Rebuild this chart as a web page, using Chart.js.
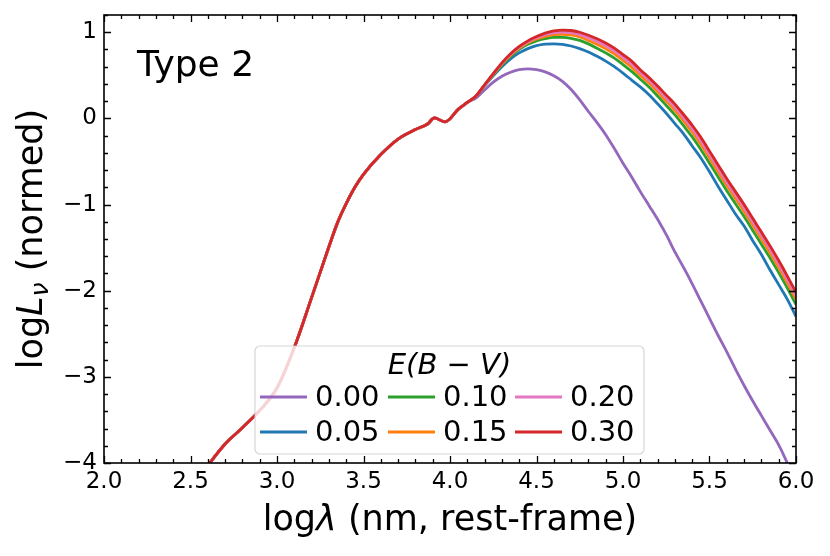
<!DOCTYPE html>
<html>
<head>
<meta charset="utf-8">
<script src="https://cdn.jsdelivr.net/npm/chart.js@4.4.1/dist/chart.umd.min.js"></script>
<style>
  html, body { margin: 0; padding: 0; background: #fff; }
  #sed { display: block; }
</style>
</head>
<body>
<canvas id="sed" width="830" height="556"></canvas>
<script>
// log wavelength grid where every E(B-V) curve coincides
const logLamShared = [2.5, 2.6, 2.7, 2.8, 2.9, 3.0, 3.1, 3.2, 3.3, 3.35, 3.4, 3.45, 3.5, 3.6, 3.7, 3.8, 3.87, 3.91, 3.97, 4.05, 4.1];
const logLnuShared = [-4.3, -4.03, -3.78, -3.59, -3.39, -3.13, -2.66, -2.08, -1.49, -1.21, -0.99, -0.80, -0.65, -0.42, -0.24, -0.13, -0.065, 0.005, -0.04, 0.11, 0.185];

// grid where the curves split apart
const logLamSplit = [4.15, 4.2, 4.25, 4.3, 4.35, 4.4, 4.45, 4.5, 4.55, 4.6, 4.65, 4.7, 4.75, 4.8, 4.85, 4.9, 4.95,
  5.0, 5.05, 5.1, 5.15, 5.2, 5.25, 5.3, 5.35, 5.4, 5.45, 5.5, 5.55, 5.6, 5.65, 5.7, 5.75, 5.8, 5.85, 5.9, 5.95, 6.0];

const ebvLabels = ['0.00', '0.05', '0.10', '0.15', '0.20', '0.30'];

const lnu000 = [0.235, 0.33, 0.42, 0.49, 0.535, 0.565, 0.575, 0.565, 0.54, 0.495, 0.43, 0.335, 0.215, 0.08, -0.05, -0.19, -0.35,
  -0.52, -0.68, -0.85, -1.01, -1.17, -1.35, -1.55, -1.73, -1.92, -2.12, -2.32, -2.52, -2.71, -2.91, -3.10, -3.28, -3.45, -3.62, -3.79, -4.0, -4.2];
const lnu005 = [0.257, 0.38, 0.495, 0.60, 0.69, 0.76, 0.81, 0.845, 0.862, 0.866, 0.86, 0.84, 0.81, 0.77, 0.72, 0.665, 0.60,
  0.525, 0.445, 0.365, 0.275, 0.17, 0.06, -0.06, -0.18, -0.32, -0.46, -0.62, -0.79, -0.95, -1.11, -1.25, -1.42, -1.58, -1.76, -1.93, -2.10, -2.30];
const lnu010 = [0.258, 0.385, 0.505, 0.62, 0.72, 0.80, 0.86, 0.90, 0.925, 0.94, 0.94, 0.93, 0.905, 0.865, 0.815, 0.76, 0.70,
  0.625, 0.545, 0.455, 0.365, 0.26, 0.15, 0.04, -0.085, -0.215, -0.36, -0.52, -0.68, -0.84, -0.99, -1.14, -1.30, -1.46, -1.62, -1.79, -1.97, -2.16];
const lnu015 = [0.259, 0.387, 0.511, 0.63, 0.733, 0.815, 0.877, 0.921, 0.95, 0.972, 0.976, 0.968, 0.945, 0.905, 0.86, 0.808, 0.748,
  0.673, 0.595, 0.50, 0.41, 0.308, 0.20, 0.093, -0.03, -0.158, -0.30, -0.46, -0.62, -0.78, -0.93, -1.08, -1.24, -1.40, -1.56, -1.73, -1.91, -2.10];
const lnu020 = [0.26, 0.389, 0.516, 0.638, 0.742, 0.825, 0.889, 0.936, 0.973, 0.994, 1.001, 0.995, 0.973, 0.936, 0.893, 0.843, 0.783,
  0.708, 0.631, 0.534, 0.444, 0.343, 0.236, 0.13, 0.009, -0.118, -0.259, -0.42, -0.58, -0.74, -0.89, -1.04, -1.20, -1.36, -1.52, -1.69, -1.87, -2.06];
const lnu030 = [0.26, 0.39, 0.52, 0.645, 0.75, 0.835, 0.90, 0.95, 0.99, 1.015, 1.025, 1.02, 1.0, 0.965, 0.925, 0.875, 0.815,
  0.74, 0.665, 0.565, 0.475, 0.375, 0.27, 0.165, 0.045, -0.08, -0.22, -0.38, -0.54, -0.70, -0.85, -1.0, -1.16, -1.32, -1.48, -1.65, -1.83, -2.02];

const xTicks = [2.0, 2.5, 3.0, 3.5, 4.0, 4.5, 5.0, 5.5, 6.0];
const yTicks = [-4, -3, -2, -1, 0, 1];

const series = [lnu000, lnu005, lnu010, lnu015, lnu020, lnu030];
const colors = ['#9467bd', '#1f77b4', '#2ca02c', '#ff7f0e', '#e377c2', '#d62728'];

const FONT = '"DejaVu Sans", "Liberation Sans", sans-serif';

function toPoints(vals) {
  const pts = logLamShared.map((x, i) => ({ x: x, y: logLnuShared[i] }));
  return pts.concat(logLamSplit.map((x, i) => ({ x: x, y: vals[i] })));
}

const datasets = series.map((vals, i) => ({
  label: ebvLabels[i],
  data: toPoints(vals),
  borderColor: colors[i],
  backgroundColor: colors[i],
  borderWidth: 2.8,
  pointRadius: 0,
  cubicInterpolationMode: 'monotone',
  order: series.length - i
}));

// spines plus inward ticks on all four sides
const framePlugin = {
  id: 'frame',
  afterDatasetsDraw(chart) {
    const { ctx, chartArea: a, scales: { x, y } } = chart;
    ctx.save();
    ctx.strokeStyle = '#000';
    ctx.lineWidth = 1.3;
    ctx.beginPath();
    for (let v = 2.0; v <= 6.0001; v += 0.1) {
      const px = Math.round(x.getPixelForValue(v)) + 0.5;
      const major = Math.abs(v * 2 - Math.round(v * 2)) < 1e-6;
      const len = major ? 7 : 4;
      ctx.moveTo(px, a.bottom); ctx.lineTo(px, a.bottom - len);
      ctx.moveTo(px, a.top); ctx.lineTo(px, a.top + len);
    }
    for (let v = -4; v <= 1.2001; v += 0.2) {
      const py = Math.round(y.getPixelForValue(v)) + 0.5;
      const major = Math.abs(v - Math.round(v)) < 1e-6;
      const len = major ? 7 : 4;
      ctx.moveTo(a.left, py); ctx.lineTo(a.left + len, py);
      ctx.moveTo(a.right, py); ctx.lineTo(a.right - len, py);
    }
    ctx.stroke();
    ctx.lineWidth = 1.6;
    ctx.strokeRect(a.left, a.top, a.right - a.left, a.bottom - a.top);
    ctx.restore();
  }
};

function drawRuns(ctx, runs, cx, baseline) {
  let total = 0;
  runs.forEach(r => { ctx.font = r.font; r.w = ctx.measureText(r.text).width; total += r.w; });
  let xx = cx - total / 2;
  runs.forEach(r => {
    ctx.font = r.font;
    ctx.fillText(r.text, xx, baseline + (r.dy || 0));
    xx += r.w;
  });
}

const textPlugin = {
  id: 'texts',
  afterDraw(chart) {
    const { ctx, chartArea: a } = chart;
    ctx.save();
    ctx.fillStyle = '#000';
    ctx.textBaseline = 'alphabetic';
    ctx.textAlign = 'left';

    // panel label
    ctx.font = '36px ' + FONT;
    ctx.fillText('Type 2', a.left + 33, a.top + 61);

    // x axis title
    drawRuns(ctx, [
      { text: 'log', font: '35px ' + FONT },
      { text: 'λ', font: 'italic 35px ' + FONT },
      { text: ' (nm, rest-frame)', font: '35px ' + FONT }
    ], (a.left + a.right) / 2, 530);

    // y axis title
    ctx.save();
    ctx.translate(42, (a.top + a.bottom) / 2);
    ctx.rotate(-Math.PI / 2);
    drawRuns(ctx, [
      { text: 'log', font: '35px ' + FONT },
      { text: 'L', font: 'italic 35px ' + FONT },
      { text: 'ν', font: 'italic 25px ' + FONT, dy: 6 },
      { text: ' (normed)', font: '35px ' + FONT }
    ], 0, 0);
    ctx.restore();

    // legend
    const box = { x: 255, y: 346, w: 389, h: 108 };
    ctx.beginPath();
    ctx.roundRect(box.x, box.y, box.w, box.h, 5);
    ctx.fillStyle = 'rgba(255,255,255,0.8)';
    ctx.fill();
    ctx.strokeStyle = 'rgba(204,204,204,0.8)';
    ctx.lineWidth = 1.2;
    ctx.stroke();

    ctx.fillStyle = '#000';
    ctx.textAlign = 'center';
    ctx.textBaseline = 'middle';
    ctx.font = 'italic 29px ' + FONT;
    ctx.fillText('E(B \u2212 V)', box.x + box.w / 2, 366);

    const colX = [260, 388, 515];
    const rowY = [397, 432];
    ctx.textAlign = 'left';
    ctx.font = '29px ' + FONT;
    chart.data.datasets.forEach((ds, i) => {
      const c = Math.floor(i / 2), r = i % 2;
      ctx.strokeStyle = ds.borderColor;
      ctx.lineWidth = 2.8;
      ctx.beginPath();
      ctx.moveTo(colX[c], rowY[r]);
      ctx.lineTo(colX[c] + 47, rowY[r]);
      ctx.stroke();
      ctx.fillStyle = '#000';
      ctx.fillText(ds.label, colX[c] + 55, rowY[r] + 1);
    });
    ctx.restore();
  }
};

new Chart(document.getElementById('sed'), {
  type: 'line',
  data: { datasets: datasets },
  options: {
    responsive: false,
    animation: false,
    layout: { padding: { left: 0, right: 34, top: 15, bottom: 0 } },
    plugins: {
      legend: { display: false },
      tooltip: { enabled: false }
    },
    scales: {
      x: {
        type: 'linear',
        min: 2,
        max: 6,
        grid: { display: false, drawTicks: false },
        border: { display: false },
        afterBuildTicks: s => { s.ticks = xTicks.map(v => ({ value: v })); },
        afterFit: s => { s.height = 93; s.paddingLeft = 0; s.paddingRight = 0; },
        ticks: {
          color: '#000',
          padding: 5,
          maxRotation: 0,
          autoSkip: false,
          font: { family: FONT, size: 23 },
          callback: v => Number(v).toFixed(1)
        }
      },
      y: {
        type: 'linear',
        min: -4,
        max: 1.2,
        grid: { display: false, drawTicks: false },
        border: { display: false },
        afterBuildTicks: s => { s.ticks = yTicks.map(v => ({ value: v })); },
        afterFit: s => { s.width = 104; s.paddingTop = 0; s.paddingBottom = 0; },
        ticks: {
          color: '#000',
          padding: 7,
          autoSkip: false,
          font: { family: FONT, size: 23 },
          callback: v => (v < 0 ? '\u2212' + Math.abs(v) : String(v))
        }
      }
    }
  },
  plugins: [framePlugin, textPlugin]
});
</script>
</body>
</html>
